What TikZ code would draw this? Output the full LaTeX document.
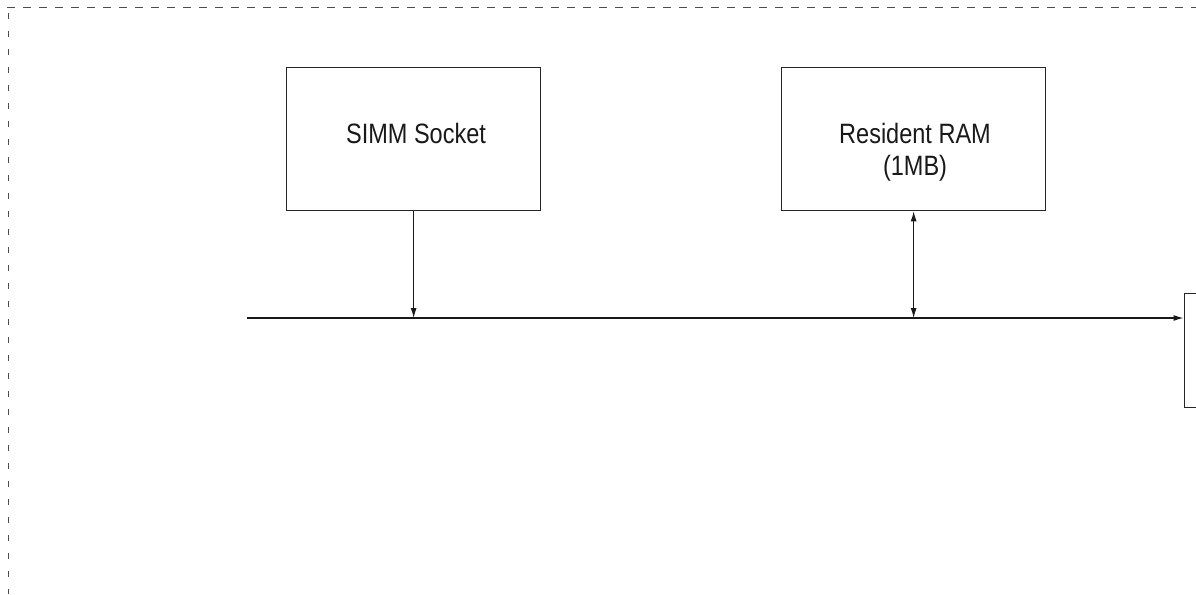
\documentclass[tikz,border=0pt]{standalone}
\usepackage{fontspec}
\setmainfont{Liberation Sans}[FakeStretch=0.84]
\usetikzlibrary{arrows.meta}
\begin{document}
\begin{tikzpicture}[x=1pt,y=-1pt,
  blk/.style={draw=black!85,line width=1.3pt,minimum width=#1,minimum height=143pt,inner sep=0pt,anchor=north west},
  lbl/.style={font=\fontsize{28}{32}\selectfont,text=black!90,anchor=base,inner sep=0pt},
  wire/.style={draw=black!90,line width=1.1pt},
  tipend/.style={-{Latex[length=10pt,width=6pt]}},
  tipboth/.style={{Latex[length=10pt,width=6pt]}-{Latex[length=10pt,width=6pt]}}]
\useasboundingbox (0,0) rectangle (1196,594);
% dashed enclosure
\draw[black!70,line width=1pt,dash pattern=on 8pt off 8pt] (7,8) -- (1196,8);
\draw[black!70,line width=1pt,dash pattern=on 6pt off 12pt] (8,13) -- (8,594);
% blocks
\node[blk=254pt] (simm) at (286,67) {};
\node[blk=264pt] (ram) at (781,67) {};
\node[draw=black!85,line width=1.3pt,minimum width=60pt,minimum height=114pt,inner sep=0pt,anchor=north west] (out) at (1183.5,293) {};
% labels
\node[lbl] (simmtxt) at (416,143) {SIMM Socket};
\node[lbl] (ramtxt1) at (915,143) {Resident RAM};
\node[lbl] (ramtxt2) at (915,175) {(1MB)};
% bus
\coordinate (busL) at (247,318);
\draw[wire,tipend] (busL) -- (busL -| out.west);
\draw[wire,tipend] (simm.south) -- (simm.south |- busL);
\draw[wire,tipboth] (ram.south) -- (ram.south |- busL);
\end{tikzpicture}
\end{document}
